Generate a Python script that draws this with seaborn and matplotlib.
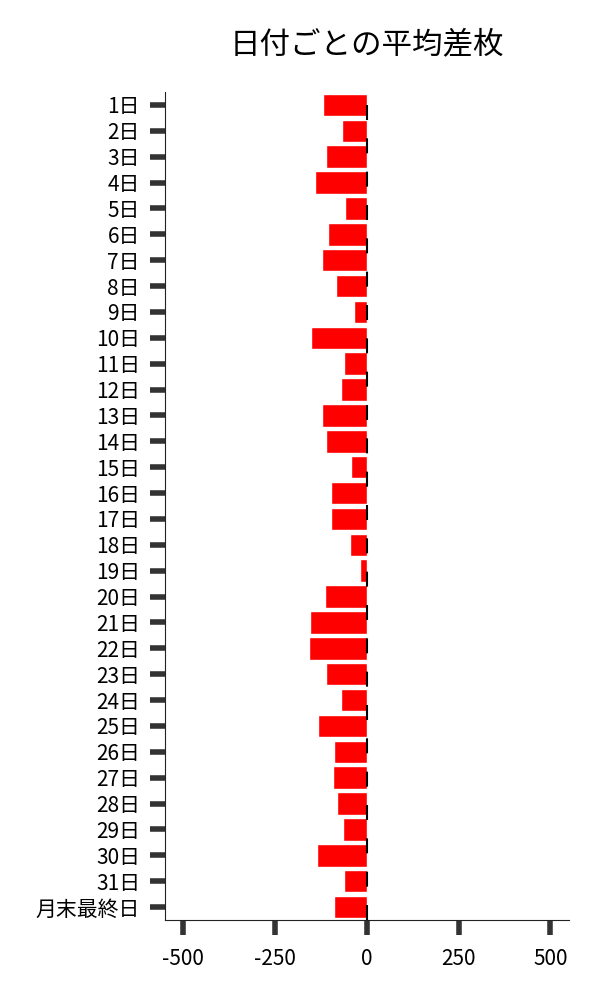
import pandas as pd
import seaborn as sns
import matplotlib.pyplot as plt

# 日付ごとの平均差枚
days = [f"{i}日" for i in range(1, 32)] + ["月末最終日"]
diff = [-120, -68, -111, -141, -60, -105, -121, -84, -36, -152,
        -63, -71, -121, -111, -43, -98, -98, -46, -19, -114,
        -155, -158, -111, -71, -133, -89, -92, -81, -65, -136,
        -63, -89]

df = pd.DataFrame({"day": days, "diff": diff})

sns.set_style("ticks")
plt.rcParams["font.family"] = ["Noto Sans CJK JP", "DejaVu Sans"]
plt.rcParams["axes.unicode_minus"] = False
plt.rcParams["text.color"] = "black"
plt.rcParams["xtick.labelcolor"] = "black"
plt.rcParams["ytick.labelcolor"] = "black"

fig, ax = plt.subplots(figsize=(6, 10), dpi=100)
fig.subplots_adjust(left=0.275, right=0.948, top=0.908, bottom=0.08)

sns.barplot(data=df, x="diff", y="day", color="red", saturation=1,
            width=0.87, ax=ax)

ax.axvline(0, color="black", lw=1.5, linestyle=(0, (7.2, 8.8)))

ax.set_xlim(-550, 550)
ax.set_xticks([-500, -250, 0, 250, 500])
ax.set_xlabel("")
ax.set_ylabel("")
ax.set_title("日付ごとの平均差枚", fontsize=22, pad=28, color="black")
ax.tick_params(axis="both", length=11, width=4, color="#333333",
               labelsize=15, labelcolor="black")
ax.tick_params(axis="y", pad=7)
ax.tick_params(axis="x", pad=9)
for s in ["left", "bottom"]:
    ax.spines[s].set_color("#222222")
sns.despine(ax=ax)

plt.savefig("out.png")
